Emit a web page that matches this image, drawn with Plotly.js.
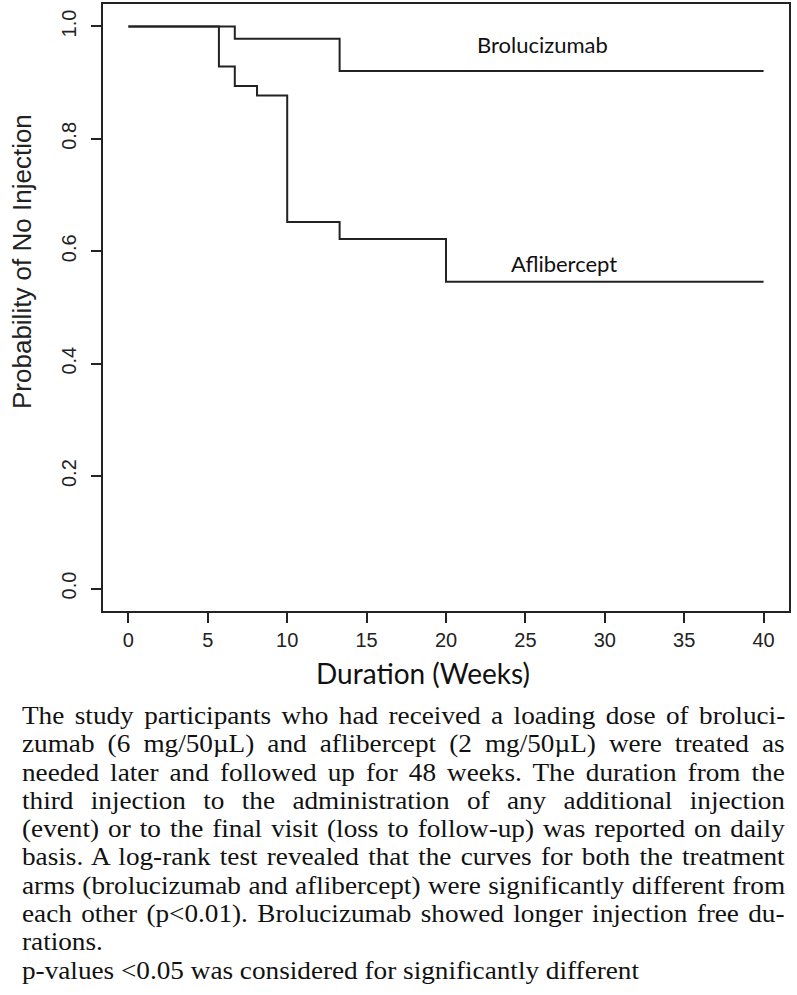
<!DOCTYPE html>
<html>
<head>
<meta charset="utf-8">
<script src="https://cdn.plot.ly/plotly-3.0.1.min.js"></script>
<style>
  html, body { margin: 0; padding: 0; background: #fff; }
  #page { position: relative; width: 797px; height: 995px; overflow: hidden; background: #fff; }
  #plot { position: absolute; left: 0; top: 0; width: 797px; height: 700px; }
  #caption { position: absolute; left: 22px; top: 702px; transform-origin: left top;
             font-family: "Liberation Serif", "Times New Roman", serif; font-size: 25.5px; color: #111; }
  #caption .ln { white-space: nowrap; height: 28.3px; line-height: 28.3px; }
  #caption .ln span { display: inline-block; height: 28.3px; line-height: 28.3px; vertical-align: top; }
</style>
</head>
<body>
<div id="page">
  <div id="plot"></div>
  <div id="caption"></div>
</div>
<script>
// ---- Data ----
const brolucizumabWeeks = [0, 6.7, 13.3, 40];
const brolucizumabProb  = [1.0, 0.978, 0.921, 0.921];
const afliberceptWeeks  = [0, 5.7, 6.7, 8.1, 10.0, 13.3, 20.0, 40];
const afliberceptProb   = [1.0, 0.929, 0.894, 0.877, 0.652, 0.622, 0.546, 0.546];
const seriesNames = ["Brolucizumab", "Aflibercept"];
const xTickVals = [0, 5, 10, 15, 20, 25, 30, 35, 40];
const yTickVals = [0.0, 0.2, 0.4, 0.6, 0.8, 1.0];
const yTickText = ["0.0", "0.2", "0.4", "0.6", "0.8", "1.0"];
const xAxisTitle = "Duration (Weeks)";
const yAxisTitle = "Probability of No Injection";
const captionLines = [
  "The study participants who had received a loading dose of broluci-",
  "zumab (6 mg/50µL) and aflibercept (2 mg/50µL) were treated as",
  "needed later and followed up for 48 weeks. The duration from the",
  "third injection to the administration of any additional injection",
  "(event) or to the final visit (loss to follow-up) was reported on daily",
  "basis. A log-rank test revealed that the curves for both the treatment",
  "arms (brolucizumab and aflibercept) were significantly different from",
  "each other (p<0.01). Brolucizumab showed longer injection free du-",
  "rations.",
  "p-values <0.05 was considered for significantly different"
];
const captionJustified = [true, true, true, true, true, true, true, true, false, false];

// ---- Chart ----
const lineColor = "#222";
const tickFont = { size: 20, family: "Liberation Sans, Arial, sans-serif", color: "#222" };
const labelFont = { family: "Lato, sans-serif", size: 22, color: "#111" };
const traces = [
  { x: brolucizumabWeeks, y: brolucizumabProb, name: seriesNames[0], type: "scatter", mode: "lines",
    line: { shape: "hv", color: lineColor, width: 2 }, hoverinfo: "skip" },
  { x: afliberceptWeeks, y: afliberceptProb, name: seriesNames[1], type: "scatter", mode: "lines",
    line: { shape: "hv", color: lineColor, width: 2 }, hoverinfo: "skip" }
];

const layout = {
  width: 797, height: 700,
  margin: { l: 103, r: 8, t: 4, b: 89 },
  paper_bgcolor: "#fff", plot_bgcolor: "#fff",
  showlegend: false,
  font: { family: "Liberation Sans, Arial, sans-serif", color: "#222" },
  xaxis: {
    range: [-1.6, 41.6], tickvals: xTickVals, ticks: "outside", ticklen: 10, tickwidth: 2,
    tickcolor: lineColor, showgrid: false, zeroline: false, showline: true, mirror: true,
    linecolor: lineColor, linewidth: 2, tickfont: tickFont
  },
  yaxis: {
    range: [-0.04, 1.04], tickvals: yTickVals, ticktext: yTickText, ticks: "outside", ticklen: 10, tickwidth: 2,
    tickangle: -90, ticklabelstandoff: 7, tickcolor: lineColor, showgrid: false, zeroline: false,
    showline: true, mirror: true, linecolor: lineColor, linewidth: 2, tickfont: tickFont
  },
  annotations: [
    { text: seriesNames[0], x: 26.1, y: 0.968, xref: "x", yref: "y", showarrow: false, font: labelFont },
    { text: seriesNames[1], x: 27.4, y: 0.578, xref: "x", yref: "y", showarrow: false, font: labelFont },
    { text: xAxisTitle, xref: "paper", yref: "paper", x: (423 - 103) / 686, y: (611 - 673) / 607,
      xanchor: "center", yanchor: "middle", showarrow: false,
      font: { family: "Lato, sans-serif", size: 28, color: "#111" } },
    { text: yAxisTitle, xref: "paper", yref: "paper", x: (22 - 103) / 686, y: (611 - 262) / 607,
      xanchor: "center", yanchor: "middle", textangle: -90, showarrow: false,
      font: { family: "Liberation Sans, Arial, sans-serif", size: 26, color: "#222" } }
  ]
};

Plotly.newPlot("plot", traces, layout, { staticPlot: true, displayModeBar: false });

// ---- Caption (justified serif text as in the reference) ----
const cap = document.getElementById("caption");
const targetWidth = 763;
const sx = 1.067;
const W = targetWidth / sx;
cap.style.width = W + "px";
captionLines.forEach(function (t, i) {
  const d = document.createElement("div");
  d.className = "ln";
  const s = document.createElement("span");
  s.textContent = t;
  d.appendChild(s);
  cap.appendChild(d);
  if (captionJustified[i]) {
    const natural = s.offsetWidth;
    const nSpaces = (t.match(/ /g) || []).length;
    if (nSpaces > 0) s.style.wordSpacing = ((W - natural) / nSpaces) + "px";
  }
});
cap.style.transform = "scaleX(" + sx + ")";
</script>
</body>
</html>
